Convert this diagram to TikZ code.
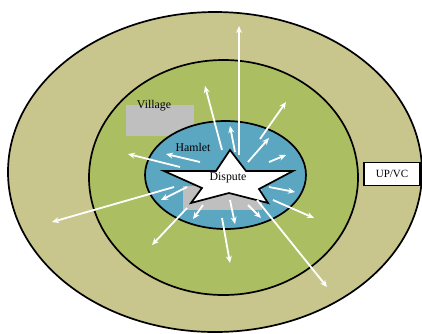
\documentclass[tikz,border=0pt]{standalone}
\usepackage{fontspec}
\setmainfont{Liberation Serif}
\usetikzlibrary{arrows.meta}
\definecolor{outerc}{RGB}{200,198,140}
\definecolor{midc}{RGB}{171,191,98}
\definecolor{innerc}{RGB}{91,166,192}
\definecolor{grayc}{RGB}{191,191,191}
\tikzset{
  ring/.style={draw=black,line width=1.7pt},
  spread/.style={draw=white,line width=1.8pt,-{Stealth[length=7pt,width=6pt]}},
  lbl/.style={font=\fontsize{11.8}{13}\selectfont,inner sep=0pt},
}
\begin{document}
\begin{tikzpicture}[x=1pt,y=-1pt]
\useasboundingbox (0,0) rectangle (422,333);
\clip (0,0) rectangle (422,333);
\fill[white] (0,0) rectangle (422,333);
\draw[ring,fill=outerc] (215,172) ellipse [x radius=207,y radius=160];
\draw[ring,fill=midc] (223.5,177.5) ellipse [x radius=134.5,y radius=117.5];
\fill[grayc] (126,105) rectangle (194,136);
\draw[ring,fill=innerc] (225.5,175) ellipse [x radius=80.5,y radius=54];
\fill[grayc] (183,186) rectangle (262,210);
\draw[black,line width=1.7pt,fill=white,line join=miter]
  (230,150) -- (246,171) -- (293,171) -- (259,189) -- (268,203) -- (229,193)
  -- (191,203) -- (202,188) -- (164,171) -- (216,171) -- cycle;
\node[lbl] (village) at (154,106) {Village};
\node[lbl] (hamlet) at (193,147) {Hamlet};
\node[lbl] (dispute) at (228,178) {Dispute};
\node[draw=black,line width=1.7pt,fill=white,minimum width=56pt,minimum height=23pt,inner sep=0pt,font=\fontsize{11}{12}\selectfont] (upvc) at (392,174) {UP/VC};
% arrows
\coordinate (s1) at (239,155); \coordinate (e1) at (239,26);
\coordinate (s2) at (222,150); \coordinate (e2) at (205,86);
\coordinate (s3) at (235,152); \coordinate (e3) at (230,126);
\coordinate (s4) at (260,139); \coordinate (e4) at (286,102);
\coordinate (s5) at (248,162); \coordinate (e5) at (269,138);
\coordinate (s6) at (269,162); \coordinate (e6) at (286,155);
\coordinate (s7) at (200,162); \coordinate (e7) at (166,154);
\coordinate (s8) at (180,167); \coordinate (e8) at (128,154);
\coordinate (s9) at (269,187); \coordinate (e9) at (295,192);
\coordinate (s10) at (273,200); \coordinate (e10) at (314,218);
\coordinate (s11) at (187,187); \coordinate (e11) at (161,200);
\coordinate (s12) at (174,187); \coordinate (e12) at (52,222);
\coordinate (s13) at (203,205); \coordinate (e13) at (193,219);
\coordinate (s14) at (187,208); \coordinate (e14) at (152,245);
\coordinate (s15) at (230,200); \coordinate (e15) at (235,224);
\coordinate (s16) at (222,218); \coordinate (e16) at (230,263);
\coordinate (s17) at (248,205); \coordinate (e17) at (261,218);
\coordinate (s18) at (257,200); \coordinate (e18) at (327,287);
\foreach \i in {1,...,18} { \draw[spread] (s\i) -- (e\i); }
\end{tikzpicture}
\end{document}
